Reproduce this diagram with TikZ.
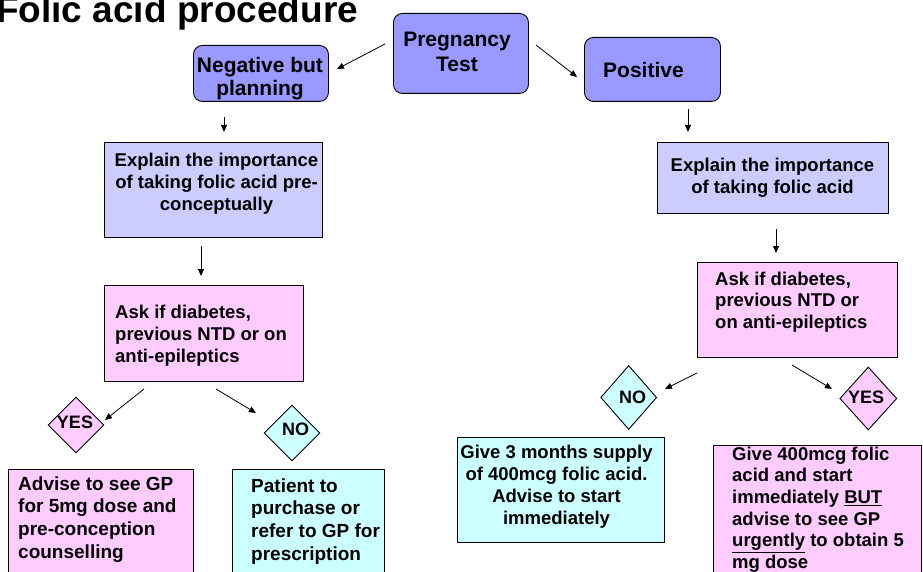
\documentclass[tikz,border=0pt]{standalone}
\usepackage{fontspec}
\setmainfont{Liberation Sans}
\usetikzlibrary{shapes.geometric,arrows.meta}
\definecolor{topc}{HTML}{9999FF}
\definecolor{lav}{HTML}{CCCCFF}
\definecolor{pnk}{HTML}{FFCCFF}
\definecolor{cyn}{HTML}{CCFFFF}
\begin{document}
\begin{tikzpicture}[x=1pt,y=-1pt,
  box/.style={draw=black, line width=0.9pt, inner sep=0, anchor=north west},
  rbox/.style={box, fill=topc, rounded corners=9pt},
  txt/.style={inner sep=0, font=\bfseries\fontsize{18.5}{21.7}\selectfont},
  bigtxt/.style={inner sep=0, font=\bfseries\fontsize{21}{23.5}\selectfont},
  dtxt/.style={inner sep=0, anchor=base, font=\bfseries\fontsize{18}{20}\selectfont},
  dia/.style={diamond, draw=black, line width=0.9pt, inner sep=0},
  arr/.style={-{Triangle[length=7pt,width=6pt]}, line width=0.8pt}]
\useasboundingbox (0,0) rectangle (923,572);
\clip (0,0) rectangle (923,572);

% title
\node[inner sep=0, anchor=base west, font=\bfseries\fontsize{37}{40}\selectfont] (title) at (-4,23) {Folic acid procedure};

% top boxes
\node[rbox, minimum width=135pt, minimum height=80pt] (preg) at (393,13) {};
\node[bigtxt, anchor=north, align=center, font=\bfseries\fontsize{21}{25}\selectfont] (pregT) at (457,31.7) {Pregnancy\\Test};
\node[rbox, minimum width=135pt, minimum height=56pt] (neg) at (193,45) {};
\node[bigtxt, anchor=north, align=center] (negT) at (260,56.7) {Negative but\\planning};
\node[rbox, minimum width=136pt, minimum height=64pt] (pos) at (584,37) {};
\node[bigtxt, anchor=base west] (posT) at (603,78) {Positive};

% left column
\node[box, fill=lav, minimum width=218pt, minimum height=95pt] (expL) at (104,142) {};
\node[txt, anchor=north, align=center] (expLT) at (216.5,153.2) {Explain the importance\\of taking folic acid pre-\\conceptually};
\node[box, fill=pnk, minimum width=199pt, minimum height=96pt] (askL) at (104,285) {};
\node[txt, anchor=north west, align=left, font=\bfseries\fontsize{18.5}{22}\selectfont] (askLT) at (115,304.5) {Ask if diabetes,\\previous NTD or on\\anti-epileptics};
\node[dia, fill=pnk, minimum width=56pt, minimum height=56pt] (yesL) at (76,425) {};
\node[dtxt] (yesLT) at (75,428) {YES};
\node[dia, fill=cyn, minimum width=56pt, minimum height=56pt] (noL) at (292,433) {};
\node[dtxt] (noLT) at (295.5,435) {NO};
\node[box, fill=pnk, minimum width=185pt, minimum height=140pt] (adv) at (8,469) {};
\node[txt, anchor=north west, align=left, font=\bfseries\fontsize{19}{22.7}\selectfont] (advT) at (18,476.2) {Advise to see GP\\for 5mg dose and\\pre-conception\\counselling};
\node[box, fill=cyn, minimum width=152pt, minimum height=140pt] (pat) at (232,469) {};
\node[txt, anchor=north west, align=left, font=\bfseries\fontsize{19}{22.7}\selectfont] (patT) at (251,478.2) {Patient to\\purchase or\\refer to GP for\\prescription};

% right column
\node[box, fill=lav, minimum width=231pt, minimum height=71pt] (expR) at (657,142) {};
\node[txt, anchor=north, align=center] (expRT) at (772.5,158.2) {Explain the importance\\of taking folic acid};
\node[box, fill=pnk, minimum width=200pt, minimum height=95pt] (askR) at (697,262) {};
\node[txt, anchor=north west, align=left] (askRT) at (715,271.5) {Ask if diabetes,\\previous NTD or\\on anti-epileptics};
\node[dia, fill=cyn, minimum width=56pt, minimum height=64pt] (noR) at (628.7,397.5) {};
\node[dtxt] (noRT) at (632.5,403) {NO};
\node[dia, fill=pnk, minimum width=57pt, minimum height=63pt] (yesR) at (868.3,398.5) {};
\node[dtxt] (yesRT) at (866,403) {YES};
\node[box, fill=cyn, minimum width=207pt, minimum height=105pt] (give3) at (457,437) {};
\node[txt, anchor=north, align=center, font=\bfseries\fontsize{18.5}{22}\selectfont] (give3T) at (556.5,444.5) {Give 3 months supply\\of 400mcg folic acid.\\Advise to start\\immediately};
\node[box, fill=pnk, minimum width=208pt, minimum height=140pt] (give4) at (713,445) {};
\node[txt, anchor=north west, align=left] (give4T) at (732,446.5) {Give 400mcg folic\\acid and start\\immediately \underline{BUT}\\advise to see GP\\\underline{urgently} to obtain 5\\mg dose};

% arrow end points (arrows float between boxes)
\coordinate (a1s) at (385,44);  \coordinate (a1e) at (337,69);
\coordinate (a2s) at (536,45);  \coordinate (a2e) at (577,77);
\coordinate (a3s) at (224,117); \coordinate (a3e) at (224,132);
\coordinate (a4s) at (201,246); \coordinate (a4e) at (201,276);
\coordinate (a5s) at (144,389); \coordinate (a5e) at (105,420);
\coordinate (a6s) at (216,389); \coordinate (a6e) at (256,413);
\coordinate (a7s) at (688,109); \coordinate (a7e) at (688,132);
\coordinate (a8s) at (776,229); \coordinate (a8e) at (776,253);
\coordinate (a9s) at (697,373); \coordinate (a9e) at (665,389);
\coordinate (a10s) at (792,365); \coordinate (a10e) at (832,389);

\draw[arr] (a1s) -- (a1e);
\draw[arr] (a2s) -- (a2e);
\draw[arr] (a3s) -- (a3e);
\draw[arr] (a4s) -- (a4e);
\draw[arr] (a5s) -- (a5e);
\draw[arr] (a6s) -- (a6e);
\draw[arr] (a7s) -- (a7e);
\draw[arr] (a8s) -- (a8e);
\draw[arr] (a9s) -- (a9e);
\draw[arr] (a10s) -- (a10e);
\end{tikzpicture}
\end{document}
